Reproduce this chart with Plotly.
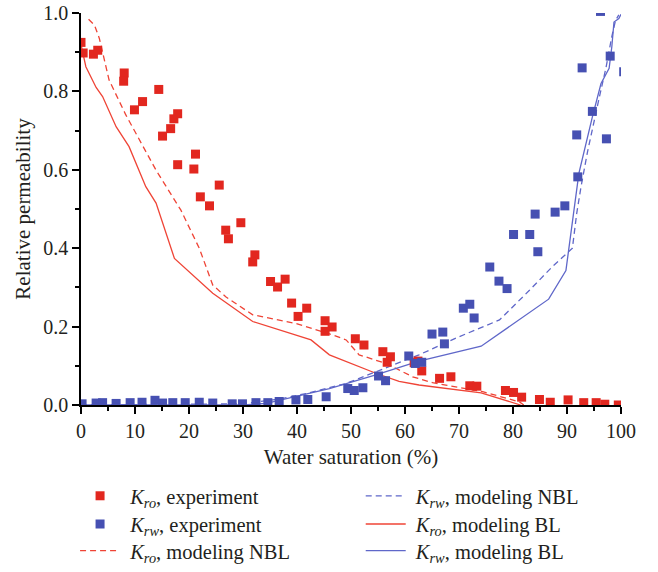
import plotly.graph_objects as go

# ---------------- data ----------------
kro_exp_x = [0.0, 0.4, 2.3, 3.1, 8.0, 7.9, 9.9, 11.4, 14.4, 15.1, 16.6, 17.2, 17.9, 17.9,
             21.2, 20.9, 22.1, 23.8, 25.6, 29.6, 26.8, 27.3, 32.2, 31.8, 35.1, 36.4, 37.8,
             39.0, 40.2, 41.8, 45.2, 46.5, 45.2, 50.8, 52.4, 55.9, 57.3, 56.7, 61.7, 62.4,
             63.1, 66.4, 68.5, 72.0, 73.3, 78.6, 80.1, 81.6, 84.9, 86.9, 90.2, 93.1, 95.4,
             97.0, 99.5]
kro_exp_y = [0.925, 0.898, 0.895, 0.905, 0.847, 0.826, 0.753, 0.774, 0.805, 0.686, 0.705,
             0.730, 0.743, 0.613, 0.640, 0.602, 0.531, 0.508, 0.561, 0.465, 0.446, 0.424,
             0.383, 0.365, 0.315, 0.301, 0.321, 0.260, 0.226, 0.247, 0.215, 0.199, 0.188,
             0.169, 0.153, 0.136, 0.123, 0.109, 0.108, 0.112, 0.087, 0.068, 0.072, 0.049,
             0.048, 0.037, 0.032, 0.020, 0.014, 0.007, 0.013, 0.006, 0.006, 0.002, 0.0]

krw_exp_x = [0.2, 2.8, 4.0, 6.5, 9.1, 11.3, 13.7, 15.1, 17.0, 19.3, 21.9, 24.4, 28.0, 29.9,
             32.4, 34.6, 36.7, 39.8, 42.0, 45.4, 49.4, 50.6, 52.2, 55.1, 56.4, 60.7, 61.9,
             63.1, 65.0, 67.0, 67.3, 70.8, 72.0, 72.8, 75.7, 77.4, 78.9, 80.1, 83.1, 84.1,
             84.6, 87.8, 89.6, 92.0, 91.8, 97.3, 94.7, 92.8, 98.0, 100.5, 96.2]
krw_exp_y = [0.003, 0.005, 0.006, 0.004, 0.006, 0.007, 0.012, 0.005, 0.006, 0.006, 0.007,
             0.005, 0.003, 0.003, 0.006, 0.006, 0.009, 0.013, 0.014, 0.021, 0.042, 0.037,
             0.044, 0.074, 0.062, 0.125, 0.106, 0.109, 0.181, 0.186, 0.156, 0.247, 0.257,
             0.222, 0.352, 0.316, 0.297, 0.435, 0.435, 0.487, 0.391, 0.492, 0.508, 0.582,
             0.689, 0.679, 0.749, 0.860, 0.890, 0.850, 1.004]

kro_nbl_x = [1.4, 2.5, 3.4, 5.2, 8.3, 10.8, 13.9, 18.5, 21.9, 24.4, 26.8, 31.8, 39.8, 46.6,
             49.1, 51.5, 56.5, 61.4, 65.1, 74.4, 81.2, 82.0]
kro_nbl_y = [0.984, 0.969, 0.935, 0.829, 0.740, 0.676, 0.599, 0.497, 0.400, 0.306, 0.276,
             0.230, 0.208, 0.179, 0.166, 0.128, 0.106, 0.072, 0.057, 0.034, 0.008, 0.0]

krw_nbl_x = [0.0, 29.9, 36.7, 42.3, 49.1, 54.6, 62.6, 70.0, 77.5, 83.0, 87.3, 91.0, 91.8,
             92.6, 93.8, 96.0, 97.2, 98.3, 99.0, 99.6]
krw_nbl_y = [0.0, 0.003, 0.015, 0.031, 0.055, 0.085, 0.128, 0.174, 0.217, 0.292, 0.353,
             0.400, 0.489, 0.557, 0.646, 0.786, 0.859, 0.940, 0.982, 0.995]

kro_bl_x = [0.0, 0.9, 2.8, 4.0, 6.5, 8.9, 12.0, 13.9, 17.3, 24.4, 31.8, 42.6, 46.0, 54.6,
            58.9, 62.6, 74.1, 80.6, 81.4]
kro_bl_y = [0.92, 0.863, 0.810, 0.787, 0.710, 0.659, 0.557, 0.515, 0.374, 0.285, 0.213,
            0.166, 0.128, 0.081, 0.060, 0.051, 0.031, 0.004, 0.0]

krw_bl_x = [0.0, 30.0, 34.3, 39.8, 46.0, 54.6, 62.6, 74.1, 86.6, 89.8, 91.0, 92.2, 94.7,
            96.3, 97.8, 98.3, 98.7, 99.6, 100.0]
krw_bl_y = [0.0, 0.0, 0.004, 0.021, 0.042, 0.077, 0.112, 0.150, 0.270, 0.343, 0.472, 0.591,
            0.735, 0.820, 0.859, 0.914, 0.977, 0.986, 0.997]

x_ticks = [0, 10, 20, 30, 40, 50, 60, 70, 80, 90, 100]
y_ticks = [0.0, 0.2, 0.4, 0.6, 0.8, 1.0]
y_tick_text = ["0.0", "0.2", "0.4", "0.6", "0.8", "1.0"]

# ---------------- style ----------------
RED_M = "#E2271F"
RED_L = "#EF4436"
BLUE_M = "#4650B2"
BLUE_L = "#5F67C9"
FONT = "Liberation Serif"
TXT = "#231F20"
FS = 20
FS_TITLE = 21
FS_LEG = 20.5

NB = "\u00a0"
KRO = NB + "<i>K</i><sub><i>ro</i></sub>"
KRW = NB + "<i>K</i><sub><i>rw</i></sub>"

fig = go.Figure()

fig.add_trace(go.Scatter(x=kro_nbl_x, y=kro_nbl_y, mode="lines",
                         line=dict(color=RED_L, width=1.3, dash="6px,4px"),
                         name=KRO + ", modeling NBL", legend="legend3", showlegend=True))
fig.add_trace(go.Scatter(x=kro_bl_x, y=kro_bl_y, mode="lines",
                         line=dict(color=RED_L, width=1.3),
                         name=KRO + ", modeling BL", legend="legend5", showlegend=True))
fig.add_trace(go.Scatter(x=krw_nbl_x, y=krw_nbl_y, mode="lines",
                         line=dict(color=BLUE_L, width=1.3, dash="6px,4px"),
                         name=KRW + ", modeling NBL", legend="legend4", showlegend=True))
fig.add_trace(go.Scatter(x=krw_bl_x, y=krw_bl_y, mode="lines",
                         line=dict(color=BLUE_L, width=1.3),
                         name=KRW + ", modeling BL", legend="legend6", showlegend=True))
fig.add_trace(go.Scatter(x=kro_exp_x, y=kro_exp_y, mode="markers",
                         marker=dict(symbol="square", size=9, color=RED_M),
                         name=KRO + ", experiment", legend="legend", showlegend=True))
fig.add_trace(go.Scatter(x=krw_exp_x, y=krw_exp_y, mode="markers",
                         marker=dict(symbol="square", size=9, color=BLUE_M),
                         name=KRW + ", experiment", legend="legend2", showlegend=True))

axis_common = dict(showline=True, linecolor="black", linewidth=1.5, ticks="outside",
                   ticklen=7, tickwidth=1.5, tickcolor="black", showgrid=False,
                   zeroline=False, mirror=False,
                   tickfont=dict(family=FONT, size=FS, color=TXT))

fig.update_xaxes(range=[0, 100], tickvals=x_ticks,
                 minor=dict(dtick=5, ticklen=4, tickwidth=1.5, tickcolor="black", ticks="outside"),
                 title=dict(text="Water saturation (%)", font=dict(family=FONT, size=FS_TITLE, color=TXT),
                            standoff=9),
                 **axis_common)
fig.update_yaxes(range=[0, 1.0], tickvals=y_ticks, ticktext=y_tick_text,
                 minor=dict(dtick=0.1, ticklen=4, tickwidth=1.5, tickcolor="black", ticks="outside"),
                 title=dict(text="Relative permeability", font=dict(family=FONT, size=FS_TITLE, color=TXT),
                            standoff=7),
                 **axis_common)

legend_common = dict(font=dict(family=FONT, size=FS_LEG, color=TXT), bgcolor="rgba(0,0,0,0)",
                     orientation="v", xanchor="left", yanchor="top", itemwidth=40, visible=True)
XL, XR = -0.011, 0.518
Y1, Y2, Y3 = -0.181, -0.253, -0.321
fig.update_layout(
    width=658, height=572,
    showlegend=True,
    margin=dict(l=81, r=37, t=13, b=167, autoexpand=False),
    plot_bgcolor="white", paper_bgcolor="white",
    legend=dict(x=XL, y=Y1, **legend_common),
    legend2=dict(x=XL, y=Y2, **legend_common),
    legend3=dict(x=XL, y=Y3, **legend_common),
    legend4=dict(x=XR, y=Y1, **legend_common),
    legend5=dict(x=XR, y=Y2, **legend_common),
    legend6=dict(x=XR, y=Y3, **legend_common),
)

fig.write_html("out.html")
